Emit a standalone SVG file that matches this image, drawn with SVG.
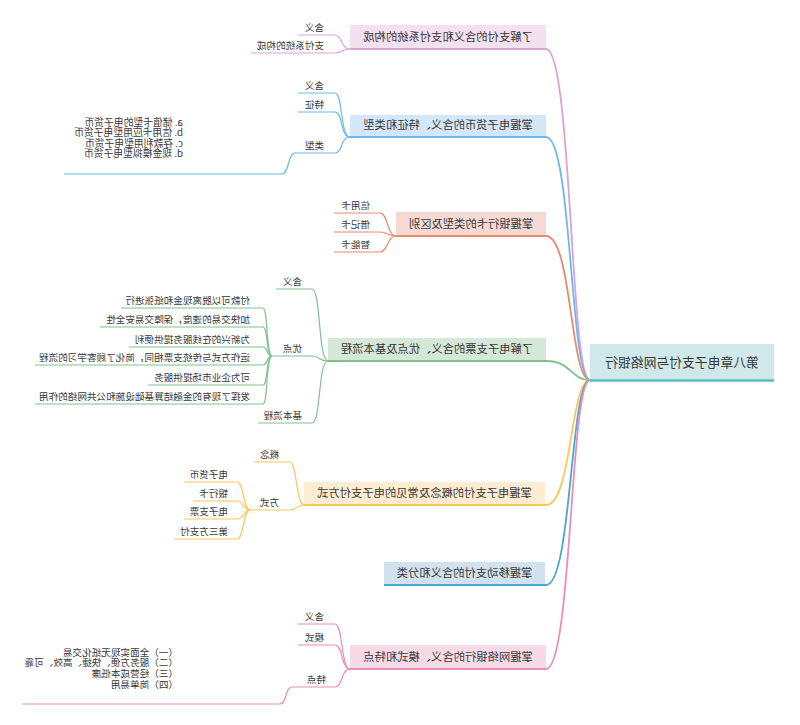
<svg xmlns="http://www.w3.org/2000/svg" width="800" height="725" viewBox="0 0 800 725">
<style>
.t{font-family:"Noto Sans CJK SC","Liberation Sans",sans-serif;fill:#383838}
.rt{font-size:12.8px;text-anchor:middle}
.br{font-size:11.3px;text-anchor:middle}
.lf{font-size:9.6px}
.ml{font-size:9.8px}
path{fill:none}
.k1{stroke:#dca2d8}.k2{stroke:#6db9ef}.k3{stroke:#e98a6f}.k4{stroke:#80c18e}.k5{stroke:#fbc65a}.k6{stroke:#48a7d5}.k7{stroke:#eb8db8}
.main{stroke-width:1.8}
.sub{stroke-width:1.2}
.bl{stroke-width:2}
</style>
<rect width="800" height="725" fill="#ffffff"/>
<g id="connectors">
<path class="main k1" d="M590,380 C570,380 572,49 546,49"/>
<path class="main k2" d="M590,380 C570,380 572,137 546,137"/>
<path class="main k3" d="M590,380 C570,380 572,236 546,236"/>
<path class="main k4" d="M590,380 C570,380 572,361 546,361"/>
<path class="main k5" d="M590,380 C570,380 572,505 546,505"/>
<path class="main k6" d="M590,380 C570,380 572,585 546,585"/>
<path class="main k7" d="M590,380 C570,380 572,669 546,669"/>
<path class="sub k1" d="M350,49 C341,49 342,35 335,35"/>
<path class="sub k1" d="M350,49 C341,49 342,53 335,53"/>
<path class="sub k2" d="M350,137 C340,137 343,93 335,93"/>
<path class="sub k2" d="M350,137 C340,137 343,112 335,112"/>
<path class="sub k2" d="M350,137 C340,137 343,153 335,153"/>
<path class="sub k2" d="M295,153 C288,153 289,174 282,174"/>
<path class="sub k3" d="M396,236 C387,236 388,213 380,213"/>
<path class="sub k3" d="M396,236 C387,236 388,232 380,232"/>
<path class="sub k3" d="M396,236 C387,236 388,252 380,252"/>
<path class="sub k4" d="M328,361 C318,361 321,289 312,289"/>
<path class="sub k4" d="M328,361 C318,361 321,356 312,356"/>
<path class="sub k4" d="M328,361 C318,361 321,423 312,423"/>
<path class="sub k4" d="M272,356 C266,356 268,308 263,308"/>
<path class="sub k4" d="M272,356 C266,356 268,327 263,327"/>
<path class="sub k4" d="M272,356 C266,356 268,347 263,347"/>
<path class="sub k4" d="M272,356 C266,356 268,365 263,365"/>
<path class="sub k4" d="M272,356 C266,356 268,385 263,385"/>
<path class="sub k4" d="M272,356 C266,356 268,404 263,404"/>
<path class="sub k5" d="M304,505 C296,505 297,462 290,462"/>
<path class="sub k5" d="M304,505 C296,505 297,510 290,510"/>
<path class="sub k5" d="M250,510 C243,510 244,482 237,482"/>
<path class="sub k5" d="M250,510 C243,510 244,501 237,501"/>
<path class="sub k5" d="M250,510 C243,510 244,519 237,519"/>
<path class="sub k5" d="M250,510 C243,510 244,539 237,539"/>
<path class="sub k7" d="M350,669 C341,669 343,624 335,624"/>
<path class="sub k7" d="M350,669 C341,669 343,645 335,645"/>
<path class="sub k7" d="M350,669 C341,669 343,687 335,687"/>
<path class="sub k7" d="M292,687 C285,687 287,704 280,704"/>
</g>
<g id="root">
<rect x="590" y="344" width="184" height="36" fill="#d1e8ea"/>
<path d="M590,380.5 H774" stroke="#57bec6" stroke-width="2.5"/>
<text class="t rt" transform="translate(682,367) scale(-1,1)">第八章电子支付与网络银行</text>
</g>
<g id="b1">
<rect x="350" y="25" width="196" height="24" fill="#f3e1f0"/>
<path class="bl k1" d="M350,49 H546"/>
<text class="t br" transform="translate(448,41) scale(-1,1)">了解支付的含义和支付系统的构成</text>
</g>
<g id="b1-1"><path class="sub k1" d="M298,35 H335"/><text class="t lf" transform="translate(324,31) scale(-1,1)">含义</text></g>
<g id="b1-2"><path class="sub k1" d="M251,53 H335"/><text class="t lf" transform="translate(324,49) scale(-1,1)">支付系统的构成</text></g>
<g id="b2">
<rect x="350" y="115" width="196" height="22" fill="#d4e7f8"/>
<path class="bl k2" d="M350,137 H546"/>
<text class="t br" transform="translate(448,129) scale(-1,1)">掌握电子货币的含义、特征和类型</text>
</g>
<g id="b2-1"><path class="sub k2" d="M298,93 H335"/><text class="t lf" transform="translate(324,89) scale(-1,1)">含义</text></g>
<g id="b2-2"><path class="sub k2" d="M298,112 H335"/><text class="t lf" transform="translate(324,108) scale(-1,1)">特征</text></g>
<g id="b2-3"><path class="sub k2" d="M295,153 H335"/><text class="t lf" transform="translate(324,149) scale(-1,1)">类型</text></g>
<g id="b2-3-1"><path class="sub k2" d="M64,174 H282"/>
<text class="t ml" transform="translate(183,0) scale(-1,1)"><tspan x="0" y="126">a. 储值卡型的电子货币</tspan><tspan x="0" y="136">b. 信用卡应用型电子货币</tspan><tspan x="0" y="146.5">c. 存款利用型电子货币</tspan><tspan x="0" y="157">d. 现金模拟型电子货币</tspan></text></g>
<g id="b3">
<rect x="396" y="212" width="150" height="24" fill="#f5dad3"/>
<path class="bl k3" d="M396,236 H546"/>
<text class="t br" transform="translate(471,228) scale(-1,1)">掌握银行卡的类型及区别</text>
</g>
<g id="b3-1"><path class="sub k3" d="M334,213 H380"/><text class="t lf" transform="translate(370,209) scale(-1,1)">信用卡</text></g>
<g id="b3-2"><path class="sub k3" d="M334,232 H380"/><text class="t lf" transform="translate(370,228) scale(-1,1)">借记卡</text></g>
<g id="b3-3"><path class="sub k3" d="M334,252 H380"/><text class="t lf" transform="translate(370,248) scale(-1,1)">智能卡</text></g>
<g id="b4">
<rect x="328" y="338" width="218" height="23" fill="#d5e8d8"/>
<path class="bl k4" d="M328,361 H546"/>
<text class="t br" transform="translate(437,353) scale(-1,1)">了解电子支票的含义、优点及基本流程</text>
</g>
<g id="b4-1"><path class="sub k4" d="M276,289 H312"/><text class="t lf" transform="translate(302,285) scale(-1,1)">含义</text></g>
<g id="b4-2"><path class="sub k4" d="M272,356 H312"/><text class="t lf" transform="translate(302,352) scale(-1,1)">优点</text></g>
<g id="b4-2-1"><path class="sub k4" d="M121,308 H263"/><text class="t lf" transform="translate(250,304) scale(-1,1)">付款可以脱离现金和纸张进行</text></g>
<g id="b4-2-2"><path class="sub k4" d="M100,327 H263"/><text class="t lf" transform="translate(250,323) scale(-1,1)">加快交易的速度，保障交易安全性</text></g>
<g id="b4-2-3"><path class="sub k4" d="M129,347 H263"/><text class="t lf" transform="translate(250,343) scale(-1,1)">为新兴的在线服务提供便利</text></g>
<g id="b4-2-4"><path class="sub k4" d="M35,365 H263"/><text class="t lf" transform="translate(250,361) scale(-1,1)">运作方式与传统支票相同，简化了顾客学习的流程</text></g>
<g id="b4-2-5"><path class="sub k4" d="M148,385 H263"/><text class="t lf" transform="translate(250,381) scale(-1,1)">可为企业市场提供服务</text></g>
<g id="b4-2-6"><path class="sub k4" d="M35,404 H263"/><text class="t lf" transform="translate(250,400) scale(-1,1)">发挥了现有的金融结算基础设施和公共网络的作用</text></g>
<g id="b4-3"><path class="sub k4" d="M258,423 H312"/><text class="t lf" transform="translate(302,419) scale(-1,1)">基本流程</text></g>
<g id="b5">
<rect x="304" y="482" width="241" height="23" fill="#fdebd2"/>
<path class="bl k5" d="M304,505 H546"/>
<text class="t br" transform="translate(424.5,497) scale(-1,1)">掌握电子支付的概念及常见的电子支付方式</text>
</g>
<g id="b5-1"><path class="sub k5" d="M254,462 H290"/><text class="t lf" transform="translate(279,458) scale(-1,1)">概念</text></g>
<g id="b5-2"><path class="sub k5" d="M250,510 H290"/><text class="t lf" transform="translate(279,506) scale(-1,1)">方式</text></g>
<g id="b5-2-1"><path class="sub k5" d="M184,482 H237"/><text class="t lf" transform="translate(228,478) scale(-1,1)">电子货币</text></g>
<g id="b5-2-2"><path class="sub k5" d="M193,501 H237"/><text class="t lf" transform="translate(228,497) scale(-1,1)">银行卡</text></g>
<g id="b5-2-3"><path class="sub k5" d="M184,519 H237"/><text class="t lf" transform="translate(228,515) scale(-1,1)">电子支票</text></g>
<g id="b5-2-4"><path class="sub k5" d="M174,539 H237"/><text class="t lf" transform="translate(228,535) scale(-1,1)">第三方支付</text></g>
<g id="b6">
<rect x="384" y="562" width="161" height="23" fill="#d1e2ee"/>
<path class="bl k6" d="M384,585 H546"/>
<text class="t br" transform="translate(464.5,577) scale(-1,1)">掌握移动支付的含义和分类</text>
</g>
<g id="b7">
<rect x="350" y="645" width="196" height="24" fill="#f6dbe7"/>
<path class="bl k7" d="M350,669 H546"/>
<text class="t br" transform="translate(448,661) scale(-1,1)">掌握网络银行的含义、模式和特点</text>
</g>
<g id="b7-1"><path class="sub k7" d="M298,624 H335"/><text class="t lf" transform="translate(324,620) scale(-1,1)">含义</text></g>
<g id="b7-2"><path class="sub k7" d="M298,645 H335"/><text class="t lf" transform="translate(324,641) scale(-1,1)">模式</text></g>
<g id="b7-3"><path class="sub k7" d="M292,687 H335"/><text class="t lf" transform="translate(326,683) scale(-1,1)">特点</text></g>
<g id="b7-3-1"><path class="sub k7" d="M22,704 H280"/>
<text class="t lf" transform="translate(178,0) scale(-1,1)"><tspan x="0" y="656">（一）全面实现无纸化交易</tspan><tspan x="0" y="666">（二）服务方便、快捷、高效、可靠</tspan><tspan x="0" y="677">（三）经营成本低廉</tspan><tspan x="0" y="688">（四）简单易用</tspan></text></g>
</svg>
